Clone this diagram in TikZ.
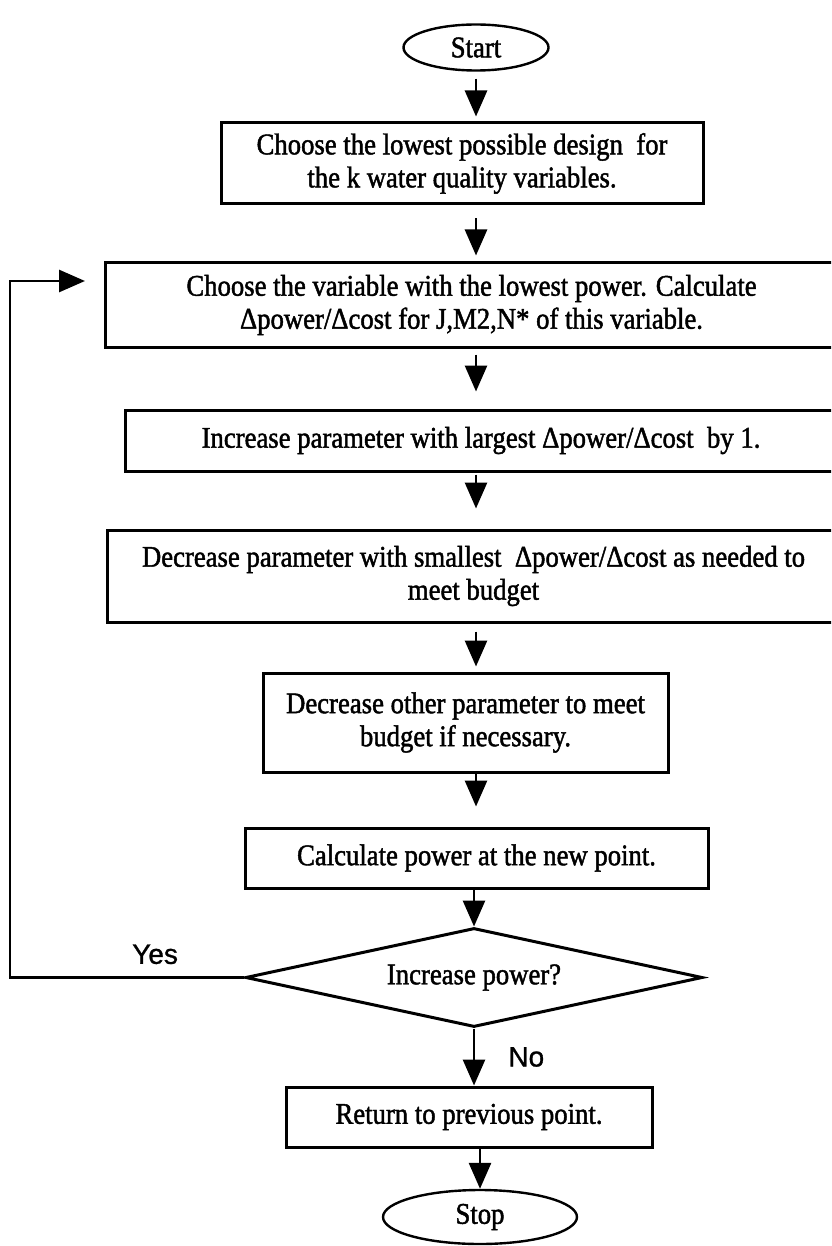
\documentclass[tikz,border=0pt]{standalone}
\usepackage{fontspec}
\setmainfont{Liberation Serif}[FakeStretch=0.89, FakeBold=1.5]
\newfontfamily\labelfont{Liberation Sans}[FakeBold=1]
\usetikzlibrary{
    arrows.meta,
    positioning,
    shapes.geometric
}
\tikzset{
  block/.style  = {draw, line width=3pt, rectangle, inner sep=0pt, align=center,
                   font=\fontsize{30}{33}\selectfont},
  term/.style   = {draw, line width=2.4pt, ellipse, inner sep=0pt,
                   font=\fontsize{30}{33}\selectfont},
  decide/.style = {draw, line width=3pt, diamond, aspect=4.6, inner sep=0pt,
                   font=\fontsize{30}{33}\selectfont},
  arr/.style    = {-{Triangle[length=26pt, width=22pt]}, line width=2.8pt},
  yn/.style     = {font=\labelfont\fontsize{28}{28}\selectfont, inner sep=0pt}
}

\begin{document}
\begin{tikzpicture}[x=1pt, y=-1pt]
\useasboundingbox (0,0) rectangle (831,1246);
\clip (0,0) rectangle (831,1246);

\node[term, minimum width=145pt, minimum height=46pt] (st) at (476,47.5) {Start};
\node[block, minimum width=482pt, minimum height=81pt] (b1) at (462,163.5)
  {Choose the lowest possible design\ \ for\\the k water quality variables.};
\node[block, minimum width=733pt, minimum height=84pt] (b2) at (471.5,305)
  {Choose the variable with the lowest power. Calculate\\Δpower/Δcost for J,M2,N* of this variable.};
\node[block, minimum width=712pt, minimum height=61pt] (b3) at (481,440.5)
  {Increase parameter with largest Δpower/Δcost\ \ by 1.};
\node[block, minimum width=733pt, minimum height=92pt] (b4) at (473.5,576)
  {Decrease parameter with smallest\ \ Δpower/Δcost as needed to\\meet budget};
\node[block, minimum width=405pt, minimum height=99pt] (b5) at (465.5,722.5)
  {Decrease other parameter to meet\\budget if necessary.};
\node[block, minimum width=463pt, minimum height=60pt] (b6) at (476.5,858)
  {Calculate power at the new point.};
\node[decide, minimum width=457pt, minimum height=99pt] (dia) at (474,977.5)
  {Increase power?};
\node[block, minimum width=366pt, minimum height=60pt] (b7) at (469,1117)
  {Return to previous point.};
\node[term, minimum width=194pt, minimum height=54pt] (sp) at (480,1217) {Stop};

\coordinate (lft) at (10,281);
\coordinate (back) at (85,281);

\draw[arr, shorten <=7pt, shorten >=5pt] (st) -- (b1.north -| st);
\draw[arr, shorten <=13pt, shorten >=6pt] (b1.south -| st) -- (b2.north -| st);
\draw[arr, shorten <=6pt, shorten >=17pt] (b2.south -| st) -- (b3.north -| st);
\draw[arr, shorten <=2pt, shorten >=20pt] (b3.south -| st) -- (b4.north -| st);
\draw[arr, shorten <=8pt, shorten >=5pt] (b4.south -| st) -- (b5.north -| st);
\draw[arr, shorten >=20pt] (b5.south -| st) -- (b6.north -| st);
\draw[arr] (b6.south -| dia) -- (dia);
\draw[arr] (dia) -- node[yn, right=33pt]{No} (b7.north -| dia);
\draw[arr] (b7.south -| sp) -- (sp);
\draw[arr] (dia.west) -- node[yn, pos=0.38, above=12pt]{Yes} (dia.west -| lft)
  -- (lft) -- (back);
\end{tikzpicture}
\end{document}
